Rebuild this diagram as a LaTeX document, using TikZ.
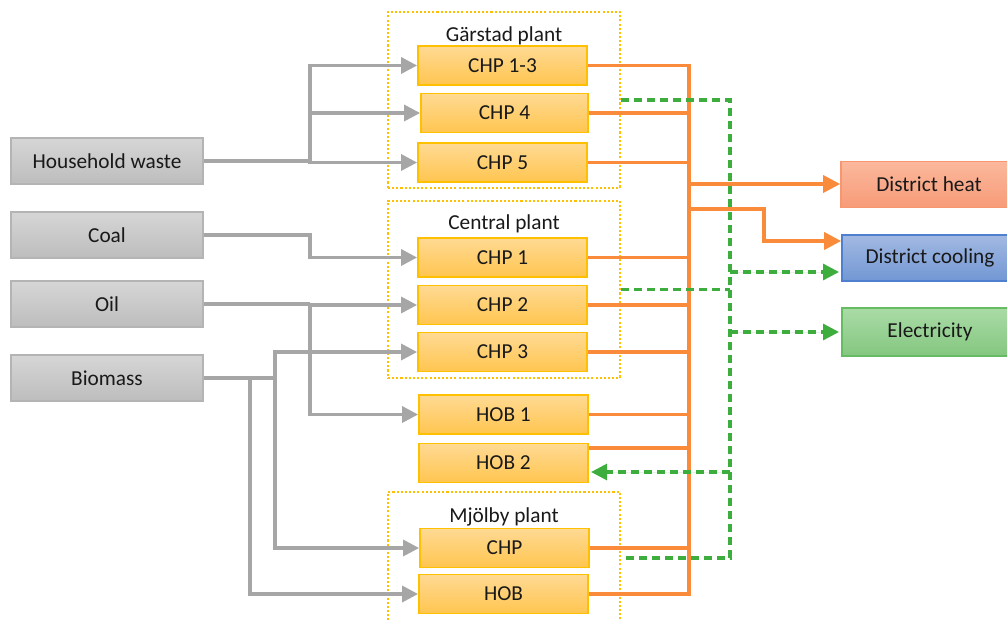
\documentclass[tikz,border=0pt]{standalone}
\usepackage{fontspec}
\setmainfont{Carlito}
\usetikzlibrary{arrows.meta}
\definecolor{fuelline}{HTML}{A6A6A6}
\definecolor{fuelborder}{HTML}{B4B4B4}
\definecolor{fueltop}{HTML}{D6D6D6}
\definecolor{fuelbottom}{HTML}{BDBDBD}
\definecolor{unitborder}{HTML}{FFC000}
\definecolor{unittop}{HTML}{FFDA94}
\definecolor{unitbottom}{HTML}{FFC54F}
\definecolor{plantdots}{HTML}{FFC000}
\definecolor{heatline}{HTML}{F98B3A}
\definecolor{heattop}{HTML}{FBB89C}
\definecolor{heatbottom}{HTML}{F79B78}
\definecolor{heatborder}{HTML}{F8976F}
\definecolor{cooltop}{HTML}{A2B9E2}
\definecolor{coolbottom}{HTML}{7297D4}
\definecolor{coolborder}{HTML}{4F80CF}
\definecolor{electop}{HTML}{AADBA6}
\definecolor{elecbottom}{HTML}{84C780}
\definecolor{elecborder}{HTML}{66BC62}
\definecolor{elecline}{HTML}{3DAE3D}
\tikzset{
  boxtext/.style={font=\fontsize{15.4}{18}\selectfont, text=black!90},
  fuelbox/.style={boxtext, draw=fuelborder, line width=0.9pt, top color=fueltop, bottom color=fuelbottom, minimum width=1.92in, minimum height=0.46in},
  unitbox/.style={boxtext, draw=unitborder, line width=1.3pt, top color=unittop, bottom color=unitbottom, minimum width=1.69in, minimum height=0.39in},
  demandbox/.style={boxtext, line width=1.2pt, minimum width=1.76in, minimum height=0.46in},
  plantbox/.style={draw=plantdots, line width=1.8pt, dash pattern=on 1.5pt off 1.5pt, minimum width=2.32in},
  planttitle/.style={boxtext},
  fuelarrow/.style={draw=fuelline, line width=2.4pt, -{Triangle[length=0.16in,width=0.16in]}},
  fuelpipe/.style={draw=fuelline, line width=2.4pt},
  heatpipe/.style={draw=heatline, line width=2.3pt},
  heatarrow/.style={draw=heatline, line width=2.6pt, -{Triangle[length=0.17in,width=0.17in]}},
  elecpipe/.style={draw=elecline, line width=2.2pt, dash pattern=on 0.08in off 0.05in},
  elecarrow/.style={draw=elecline, fill=elecline, line width=2.2pt, dash pattern=on 0.08in off 0.05in, -{Triangle[length=0.16in,width=0.16in,sep]}}
}
\begin{document}
\begin{tikzpicture}[x=1in,y=-1in]
\useasboundingbox (0,0) rectangle (10.07,6.21);
\node[plantbox, minimum height=1.76in] (garstad) at (5.0400,1.0000) {};
\node[plantbox, minimum height=1.77in] (central) at (5.0400,2.8950) {};
\node[plantbox, minimum height=1.32in] (mjolby) at (5.0400,5.5800) {};
\node[planttitle] (garstadtitle) at (5.0400,0.3600) {Gärstad plant};
\node[planttitle] (centraltitle) at (5.0400,2.2400) {Central plant};
\node[planttitle] (mjolbytitle) at (5.0400,5.1700) {Mjölby plant};
\node[fuelbox] (waste) at (1.0700,1.6100) {Household waste};
\node[fuelbox] (coal) at (1.0700,2.3500) {Coal};
\node[fuelbox] (oil) at (1.0700,3.0400) {Oil};
\node[fuelbox] (bio) at (1.0700,3.7800) {Biomass};
\node[unitbox] (gchp13) at (5.0250,0.6550) {CHP 1-3};
\node[unitbox, minimum width=1.67in] (gchp4) at (5.0450,1.1300) {CHP 4};
\node[unitbox] (gchp5) at (5.0250,1.6250) {CHP 5};
\node[unitbox] (cchp1) at (5.0250,2.5750) {CHP 1};
\node[unitbox] (cchp2) at (5.0250,3.0500) {CHP 2};
\node[unitbox] (cchp3) at (5.0250,3.5200) {CHP 3};
\node[unitbox] (hob1) at (5.0350,4.1450) {HOB 1};
\node[unitbox] (hob2) at (5.0350,4.6300) {HOB 2};
\node[unitbox] (mchp) at (5.0450,5.4800) {CHP};
\node[unitbox] (mhob) at (5.0350,5.9400) {HOB};
\node[demandbox, draw=heatborder, top color=heattop, bottom color=heatbottom] (heat) at (9.2900,1.8450) {District heat};
\node[demandbox, draw=coolborder, top color=cooltop, bottom color=coolbottom] (cool) at (9.3000,2.5800) {District cooling};
\node[demandbox, minimum height=0.48in, draw=elecborder, top color=electop, bottom color=elecbottom] (elec) at (9.3000,3.3200) {Electricity};
\coordinate (wastesplit) at (3.1000,1.6100);
\coordinate (oilsplit) at (3.1000,3.0400);
\coordinate (biosplit) at (2.7500,3.7800);
\coordinate (biohob) at (2.5000,3.7800);
\draw[fuelpipe] (waste.east) -- (wastesplit);
\draw[fuelarrow] (wastesplit) |- (gchp5.west);
\draw[fuelarrow] (wastesplit) |- (gchp4.west);
\draw[fuelarrow] (wastesplit) |- (gchp13.west);
\draw[fuelarrow] (coal.east) -- (coal.east -| wastesplit) |- (cchp1.west);
\draw[fuelpipe] (oil.east) -- (oilsplit);
\draw[fuelarrow] (oilsplit) |- (cchp2.west);
\draw[fuelarrow] (oilsplit) |- (hob1.west);
\draw[fuelpipe] (bio.east) -- (biosplit);
\draw[fuelarrow] (biosplit) |- (cchp3.west);
\draw[fuelarrow] (biosplit) |- (mchp.west);
\draw[fuelarrow] (biohob) |- (mhob.west);
\coordinate (bustop) at (6.8900,0.6550);
\coordinate (busbot) at (6.8900,5.9400);
\coordinate (heatsplit) at (6.8900,1.8400);
\coordinate (coolsplit) at (6.8900,2.0900);
\coordinate (coolbend) at (7.6400,2.4100);
\draw[heatpipe] (gchp13.east) -- (bustop) -- (busbot) -- (mhob.east);
\draw[heatpipe] (gchp4.east) -- (gchp4.east -| bustop);
\draw[heatpipe] (gchp5.east) -- (gchp5.east -| bustop);
\draw[heatpipe] (cchp1.east) -- (cchp1.east -| bustop);
\draw[heatpipe] (cchp2.east) -- (cchp2.east -| bustop);
\draw[heatpipe] (cchp3.east) -- (cchp3.east -| bustop);
\draw[heatpipe] (hob1.east) -- (hob1.east -| bustop);
\draw[heatpipe] (hob2.east |- 0,4.4800) -- (bustop |- 0,4.4800);
\draw[heatpipe] (mchp.east) -- (mchp.east -| bustop);
\draw[heatarrow] (heatsplit) -- (heat.west |- heatsplit);
\draw[heatarrow] (coolsplit) -| (coolbend) -- (cool.west |- coolbend);
\coordinate (gridtop) at (7.3000,1.0000);
\coordinate (gridbot) at (7.3000,5.5800);
\draw[elecpipe] (garstad.east) -- (gridtop) -- (gridbot) -- (mjolby.east);
\draw[elecpipe] (central.east) -- (central.east -| gridtop);
\draw[elecarrow] (gridtop |- 0,2.7200) -- (cool.west |- 0,2.7200);
\draw[elecarrow] (gridtop |- elec.west) -- (elec.west);
\draw[elecarrow] (gridtop |- 0,4.7200) -- (hob2.east |- 0,4.7200);
\end{tikzpicture}
\end{document}
